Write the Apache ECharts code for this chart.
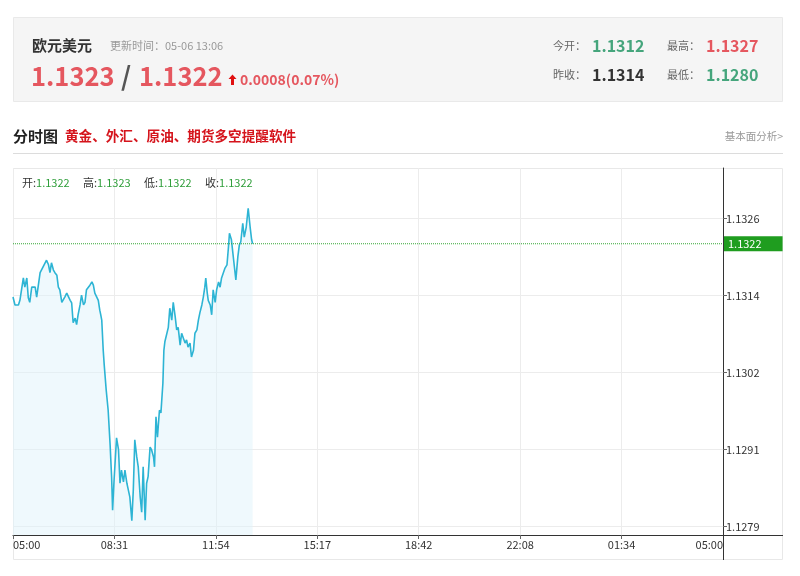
<!DOCTYPE html>
<html><head><meta charset="utf-8">
<script src="https://cdn.jsdelivr.net/npm/echarts@6/dist/echarts.min.js"></script>
<style>html,body{margin:0;padding:0;background:#fff;}#c{width:800px;height:576px;}</style>
</head><body><div id="c"></div>
<script>
// ---- header info ----
const symbolName = '欧元美元';
const updateTime = '更新时间：05-06 13:06';
const bidPrice = '1.1323';
const askPrice = '1.1322';
const changeText = '0.0008(0.07%)';
const openToday = '1.1312';
const highToday = '1.1327';
const prevClose = '1.1314';
const lowToday = '1.1280';
const barOpen = '1.1322', barHigh = '1.1323', barLow = '1.1322', barClose = '1.1322';
const lastPrice = 1.1322;

// ---- axes ----
const xTickLabels = ['05:00', '08:31', '11:54', '15:17', '18:42', '22:08', '01:34', '05:00'];
const dayMinutes = 1440;
const yTickValues = [1.12790, 1.12907, 1.13024, 1.13141, 1.13258];
const yMin = 1.127774;
const yMax = 1.133351;

// ---- series: minutes after 05:00, price ----
const minutes = [
  0,4,11,14,18,21,24,28,31,34,
  38,41,45,48,51,55,58,61,68,72,
  75,78,82,85,89,92,95,99,102,105,
  109,112,116,119,122,126,129,132,136,139,
  143,146,149,153,156,160,163,166,170,173,
  176,178,180,183,185,189,193,197,199,200,
  202,205,210,214,217,220,224,227,231,233,
  237,241,244,247,251,254,258,261,264,268,
  271,274,278,281,285,287,290,293,297,300,
  304,306,308,312,315,318,322,325,329,332,
  335,339,342,345,349,352,355,359,362,366,
  369,373,376,379,383,386,389,391,394,396,
  400,403,406,410,413,417,420,423,427,430,
  434,437,439,443,446,449,452,456,459,462,
  466,469,473,477,481,484,486
];
const prices = [
  1.13139,1.13127,1.13127,1.13134,1.13131,1.13168,1.13154,1.13168,1.13138,1.13131,
  1.13154,1.13153,1.13154,1.13139,1.13139,1.13176,1.13177,1.13185,1.13195,1.13188,
  1.13176,1.13191,1.13180,1.13176,1.13172,1.13154,1.13150,1.13131,1.13131,1.13139,
  1.13145,1.13142,1.13134,1.13130,1.13100,1.13107,1.13097,1.13112,1.13127,1.13142,
  1.13127,1.13131,1.13150,1.13153,1.13157,1.13162,1.13157,1.13145,1.13142,1.13134,
  1.13119,1.13112,1.13104,1.13058,1.13036,1.12998,1.12967,1.12914,1.12881,1.12866,
  1.12815,1.12861,1.12925,1.12907,1.12856,1.12876,1.12858,1.12876,1.12856,1.12849,
  1.12835,1.12799,1.12846,1.12922,1.12896,1.12881,1.12835,1.12812,1.12881,1.12800,
  1.12856,1.12866,1.12911,1.12907,1.12896,1.12881,1.12957,1.12926,1.12967,1.12963,
  1.13008,1.13058,1.13071,1.13074,1.13093,1.13122,1.13104,1.13131,1.13109,1.13089,
  1.13093,1.13066,1.13084,1.13084,1.13069,1.13074,1.13063,1.13069,1.13048,1.13058,
  1.13084,1.13089,1.13104,1.13115,1.13127,1.13139,1.13154,1.13168,1.13145,1.13134,
  1.13127,1.13112,1.13150,1.13131,1.13150,1.13162,1.13154,1.13168,1.13169,1.13183,
  1.13188,1.13215,1.13236,1.13226,1.13223,1.13185,1.13165,1.13200,1.13218,1.13223,
  1.13251,1.13230,1.13245,1.13274,1.13245,1.13226,1.13220
];

const FONT = '"Noto Sans CJK SC", "Noto Sans", sans-serif';
const RED = '#e5575f';
const GREEN = '#45a57c';
const step = dayMinutes / (xTickLabels.length - 1);
const xTickValues = xTickLabels.map((_, i) => Math.round(i * step * 1000) / 1000);

const chart = echarts.init(document.getElementById('c'), null, { renderer: 'canvas' });

function txt(x, y, text, font, fill, align) {
  return { type: 'text', silent: true, z: 10,
    style: { x: x, y: y, text: text, font: font, fill: fill, align: align || 'left', verticalAlign: 'middle' } };
}
function pair(x, y, label, value) {
  return { type: 'text', silent: true, z: 10,
    style: { x: x, y: y, text: '{l|' + label + '}{v|' + value + '}', verticalAlign: 'middle',
      font: '11px ' + FONT,
      rich: { l: { fill: '#333', font: '11px ' + FONT }, v: { fill: '#2f9e3a', font: '11px ' + FONT } } } };
}

const option = {
  animation: false,
  backgroundColor: '#ffffff',
  grid: { left: 13, right: 77, top: 168, bottom: 41, outerBoundsMode: 'none', containLabel: false },
  xAxis: {
    type: 'value', min: 0, max: dayMinutes,
    axisLine: { show: true, onZero: false, lineStyle: { color: '#333', width: 1 } },
    axisTick: { show: true, length: 4, customValues: xTickValues, lineStyle: { color: '#666' } },
    axisLabel: {
      customValues: xTickValues,
      formatter: v => xTickLabels[Math.round(v / step)],
      color: '#333', fontSize: 11, fontFamily: FONT, margin: 4,
      alignMinLabel: 'left', alignMaxLabel: 'right', hideOverlap: false
    },
    splitLine: { show: true, lineStyle: { color: '#ececec', width: 1 } }
  },
  yAxis: {
    type: 'value', position: 'right', min: yMin, max: yMax,
    axisLine: { show: true, onZero: false, lineStyle: { color: '#333', width: 1 } },
    axisTick: { show: true, inside: false, length: 4, customValues: yTickValues, lineStyle: { color: '#666' } },
    axisLabel: {
      customValues: yTickValues,
      formatter: v => v.toFixed(4),
      color: '#333', fontSize: 11, fontFamily: FONT, margin: 3, hideOverlap: false
    },
    splitLine: { show: true, lineStyle: { color: '#ececec', width: 1 } }
  },
  series: [{
    type: 'line',
    data: minutes.map((m, i) => [m, prices[i]]),
    symbol: 'none', showSymbol: false, smooth: false,
    lineStyle: { color: '#2db4d4', width: 1.6 },
    areaStyle: { color: 'rgba(222,243,250,0.7)', origin: 'start' },
    z: 3
  }, {
    type: 'line',
    data: [[0, lastPrice], [dayMinutes, lastPrice]],
    symbol: 'none', showSymbol: false, silent: true, z: 4,
    lineStyle: { color: '#36a836', type: 'dotted', width: 1 },
    endLabel: {
      show: true, distance: 1,
      formatter: () => lastPrice.toFixed(4),
      color: '#ffffff', backgroundColor: '#1f9d1f',
      fontSize: 11, fontFamily: FONT, lineHeight: 12,
      padding: [2, 21, 1, 4]
    }
  }],
  graphic: [
    // header box
    { type: 'rect', silent: true, z: 1, shape: { x: 13.5, y: 17.5, width: 769, height: 84 },
      style: { fill: '#f5f5f5', stroke: '#e9e9e9', lineWidth: 1 } },
    txt(32, 45, symbolName, 'bold 15px ' + FONT, '#333'),
    txt(110, 46, updateTime, '11px ' + FONT, '#999'),
    txt(31, 76, bidPrice, 'bold 25.5px ' + FONT, RED),
    txt(121, 76, '/', 'bold 26px ' + FONT, '#555'),
    txt(139, 76, askPrice, 'bold 25.5px ' + FONT, RED),
    { type: 'polygon', silent: true, z: 10,
      shape: { points: [[232.5, 74.5], [236.5, 79], [234, 79], [234, 85], [231, 85], [231, 79], [228.5, 79]] },
      style: { fill: '#e01010' } },
    txt(240, 80, changeText, 'bold 14px ' + FONT, RED),
    txt(553, 46, '今开：', '11px ' + FONT, '#666'),
    txt(592, 46, openToday, 'bold 16px ' + FONT, GREEN),
    txt(667, 46, '最高：', '11px ' + FONT, '#666'),
    txt(706, 46, highToday, 'bold 16px ' + FONT, RED),
    txt(553, 75, '昨收：', '11px ' + FONT, '#666'),
    txt(592, 75, prevClose, 'bold 16px ' + FONT, '#333'),
    txt(667, 75, '最低：', '11px ' + FONT, '#666'),
    txt(706, 75, lowToday, 'bold 16px ' + FONT, GREEN),
    // section title
    txt(13, 136, '分时图', 'bold 15px ' + FONT, '#222'),
    txt(65, 136, '黄金、外汇、原油、期货多空提醒软件', 'bold 13.6px ' + FONT, '#d5141c'),
    txt(783, 136, '基本面分析>', '10.5px ' + FONT, '#999', 'right'),
    { type: 'line', silent: true, z: 1, shape: { x1: 13, y1: 153.5, x2: 783, y2: 153.5 },
      style: { stroke: '#dcdcdc', lineWidth: 1 } },
    // chart frame
    { type: 'rect', silent: true, z: -1, shape: { x: 13.5, y: 168.5, width: 769, height: 391 },
      style: { fill: 'none', stroke: '#e8e8e8', lineWidth: 1 } },
    { type: 'line', silent: true, z: 5, shape: { x1: 723.5, y1: 535, x2: 723.5, y2: 560 },
      style: { stroke: '#333', lineWidth: 1 } },
    { type: 'line', silent: true, z: 5, shape: { x1: 723, y1: 535.5, x2: 783, y2: 535.5 },
      style: { stroke: '#333', lineWidth: 1 } },
    // OHLC info line
    pair(22, 183, '开:', barOpen),
    pair(83, 183, '高:', barHigh),
    pair(144, 183, '低:', barLow),
    pair(205, 183, '收:', barClose)
  ]
};
chart.setOption(option);
</script>
</body></html>
